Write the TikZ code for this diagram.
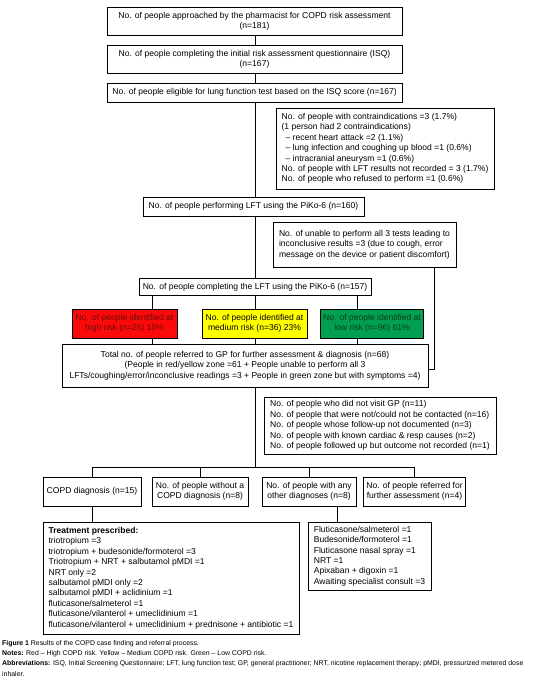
\documentclass[tikz,border=0pt]{standalone}
\usepackage{fontspec}
\setmainfont{Liberation Sans}

\definecolor{riskred}{RGB}{250,10,10}
\definecolor{riskyellow}{RGB}{255,255,0}
\definecolor{riskgreen}{RGB}{0,160,80}
\definecolor{redtext}{RGB}{110,10,10}
\definecolor{greentext}{RGB}{10,60,30}

\tikzset{
  box/.style={draw, line width=0.8pt, inner xsep=3pt, inner ysep=0pt,
    font=\fontsize{8.55}{10.4}\selectfont},
  link/.style={line width=0.8pt},
}

\begin{document}
\begin{tikzpicture}[x=1pt,y=-1pt]
  \useasboundingbox (0,0) rectangle (537,687);

  % Main column
  \node[box, minimum width=295pt, align=center, minimum height=28pt] (approach) at (254.5,21)
    {No. of people approached by the pharmacist for COPD risk assessment\\(n=181)};
  \node[box, minimum width=295pt, align=center, minimum height=28pt] (isq) at (254.5,59)
    {No. of people completing the initial risk assessment questionnaire (ISQ)\\(n=167)};
  \node[box, minimum width=295pt, align=center, minimum height=19pt] (eligible) at (254.5,92.5)
    {No. of people eligible for lung function test based on the ISQ score (n=167)};
  \node[box, minimum width=218pt, align=left, minimum height=81pt] (contra) at (385,148.5)
    {No. of people with contraindications =3 (1.7\%)\\
     (1 person had 2 contraindications)\\
     \hspace*{4pt}-- recent heart attack =2 (1.1\%)\\
     \hspace*{4pt}-- lung infection and coughing up blood =1 (0.6\%)\\
     \hspace*{4pt}-- intracranial aneurysm =1 (0.6\%)\\
     No. of people with LFT results not recorded = 3 (1.7\%)\\
     No. of people who refused to perform =1 (0.6\%)};
  \node[box, minimum width=221pt, align=center, minimum height=19pt] (perform) at (253.5,206.5)
    {No. of people performing LFT using the PiKo-6 (n=160)};
  \node[box, minimum width=183pt, align=left, minimum height=45pt] (unable) at (364.5,244.5)
    {No. of unable to perform all 3 tests leading to\\
     inconclusive results =3 (due to cough, error\\
     message on the device or patient discomfort)};
  \node[box, minimum width=232pt, align=center, minimum height=17pt] (complete) at (255,287)
    {No. of people completing the LFT using the PiKo-6 (n=157)};

  % Risk zones
  \node[box, fill=riskred, text=redtext, minimum width=105pt, align=center, minimum height=29pt] (high) at (124.5,323.5)
    {No. of people identified at\\high risk (n=25) 16\%};
  \node[box, fill=riskyellow, minimum width=105pt, align=center, minimum height=29pt] (medium) at (254.5,323.5)
    {No. of people identified at\\medium risk (n=36) 23\%};
  \node[box, fill=riskgreen, text=greentext, minimum width=102pt, align=center, minimum height=29pt] (low) at (372,323.5)
    {No. of people identified at\\low risk (n=96) 61\%};

  \node[box, minimum width=366pt, align=center, minimum height=43pt] (total) at (245,365.5)
    {Total no. of people referred to GP for further assessment \& diagnosis (n=68)\\
     (People in red/yellow zone =61 + People unable to perform all 3\\
     LFTs/coughing/error/inconclusive readings =3 + People in green zone but with symptoms =4)};
  \node[box, minimum width=232pt, align=left, minimum height=57pt] (followup) at (380,425.5)
    {No. of people who did not visit GP (n=11)\\
     No. of people that were not/could not be contacted (n=16)\\
     No. of people whose follow-up not documented (n=3)\\
     No. of people with known cardiac \& resp causes (n=2)\\
     No. of people followed up but outcome not recorded (n=1)};

  % Outcomes
  \node[box, minimum width=98pt, align=center, minimum height=29pt] (copd) at (92,491.5)
    {COPD diagnosis (n=15)};
  \node[box, minimum width=96pt, align=center, minimum height=29pt] (nocopd) at (200,491.5)
    {No. of people without a\\COPD diagnosis (n=8)};
  \node[box, minimum width=94pt, align=center, minimum height=29pt] (other) at (309,491.5)
    {No. of people with any\\other diagnoses (n=8)};
  \node[box, minimum width=97pt, align=center, minimum height=29pt] (referred) at (414.5,491.5)
    {No. of people referred for\\further assessment (n=4)};

  \node[box, minimum width=256pt, align=left, minimum height=112pt] (treat) at (171,578)
    {\textbf{Treatment prescribed:}\\
     triotropium =3\\
     triotropium + budesonide/formoterol =3\\
     Triotropium + NRT + salbutamol pMDI =1\\
     NRT only =2\\
     salbutamol pMDI only =2\\
     salbutamol pMDI + aclidinium =1\\
     fluticasone/salmeterol =1\\
     fluticasone/vilanterol + umeclidinium =1\\
     fluticasone/vilanterol + umeclidinium + prednisone + antibiotic =1};
  \node[box, minimum width=123pt, align=left, minimum height=68pt] (drugs) at (369.5,556)
    {Fluticasone/salmeterol =1\\
     Budesonide/formoterol =1\\
     Fluticasone nasal spray =1\\
     NRT =1\\
     Apixaban + digoxin =1\\
     Awaiting specialist consult =3};

  % Connector positions
  \coordinate (mid) at (255.5,0);
  \coordinate (hx) at (152,0);
  \coordinate (lx) at (357,0);
  \coordinate (ux) at (434,369);
  \coordinate (bus) at (255.5,467);
  \coordinate (ox) at (337,0);

  % Connectors
  \draw[link] (approach.south -| mid) -- (isq.north -| mid);
  \draw[link] (isq.south -| mid) -- (eligible.north -| mid);
  \draw[link] (eligible.south -| mid) -- (perform.north -| mid);
  \draw[link] (perform.south -| mid) -- (complete.north -| mid);
  \draw[link] (complete.south -| hx) -- (high.north -| hx);
  \draw[link] (complete.south -| mid) -- (medium.north -| mid);
  \draw[link] (complete.south -| lx) -- (low.north -| lx);
  \draw[link] (high.south -| hx) -- (total.north -| hx);
  \draw[link] (medium.south -| mid) -- (total.north -| mid);
  \draw[link] (low.south -| lx) -- (total.north -| lx);
  \draw[link] (unable.south -| ux) -- (ux) -- (total.east |- ux);
  \draw[link] (total.south -| bus) -- (bus);
  \draw[link] (copd.north) |- (bus);
  \draw[link] (nocopd.north) |- (bus);
  \draw[link] (other.north) |- (bus);
  \draw[link] (referred.north) |- (bus);
  \draw[link] (copd.south) -- (copd.south |- treat.north);
  \draw[link] (other.south -| ox) -- (drugs.north -| ox);

  % Caption
  \node[anchor=north west, align=left, inner sep=0pt, font=\fontsize{6.9}{10.3}\selectfont] (caption) at (2,640)
    {\textbf{Figure 1} Results of the COPD case finding and referral process.\\
     \textbf{Notes:} Red -- High COPD risk. Yellow -- Medium COPD risk. Green -- Low COPD risk.\\
     \textbf{Abbreviations:} ISQ, Initial Screening Questionnaire; LFT, lung function test; GP, general practitioner; NRT, nicotine replacement therapy; pMDI, pressurized metered dose\\
     inhaler.};
\end{tikzpicture}
\end{document}
